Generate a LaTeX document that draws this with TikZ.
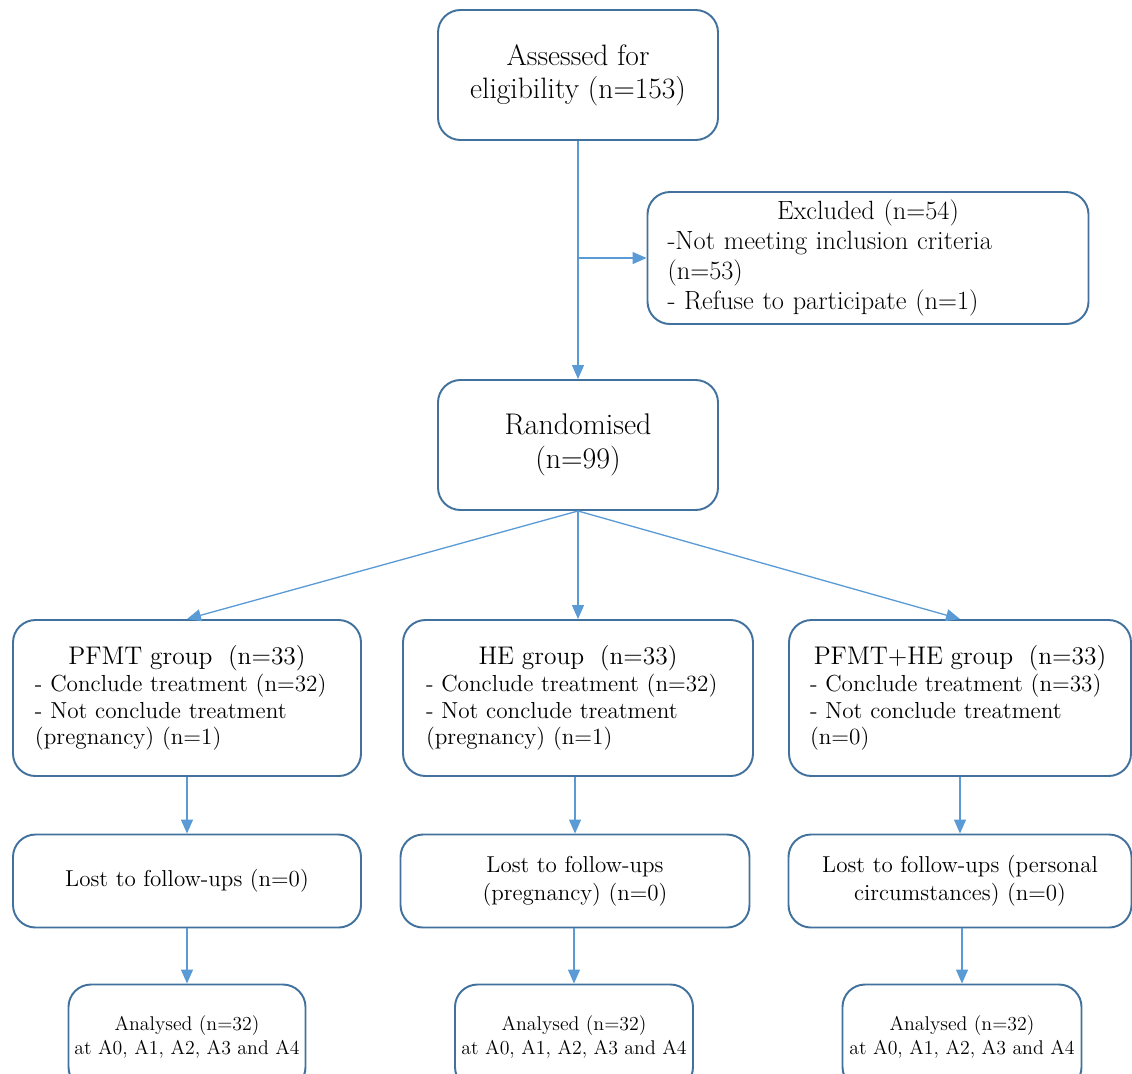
\documentclass[tikz,border=0pt]{standalone}
\usepackage{tikz}
\usetikzlibrary{arrows.meta}

\definecolor{boxblue}{RGB}{65,113,156}
\definecolor{arrblue}{RGB}{91,155,213}

\begin{document}
\begin{tikzpicture}[x=0.2mm,y=-0.2mm,
  box/.style={draw=boxblue,line width=1.1pt,rounded corners=4.5mm,inner sep=0pt},
  arr/.style={draw=arrblue,line width=0.75pt,-{Triangle[length=2.8mm,width=2.4mm]}}]
\clip (0,0) rectangle (1132,1073);
% top part
\node[box,minimum width=56mm,minimum height=26mm,align=center,font=\fontsize{16.8}{18.7}\selectfont] (assess) at (578,75) {Assessed for\\eligibility (n=153)};
\node[box,minimum width=88.2mm,minimum height=26.4mm,text width=80.2mm,align=left,font=\fontsize{15}{17}\selectfont] (excl) at (868,258) {\makebox[\linewidth]{Excluded (n=54)}\\-Not meeting inclusion criteria\\(n=53)\\- Refuse to participate (n=1)};
\node[box,minimum width=56mm,minimum height=26mm,align=center,font=\fontsize{17}{19.3}\selectfont] (rand) at (578,445) {Randomised\\(n=99)};
\coordinate (split) at (578,258);
\draw[arr] (assess) -- (rand);
\draw[arr] (split) -- (excl.west);
% groups
\node[box,minimum width=69.6mm,minimum height=31.2mm,text width=60.8mm,align=left,font=\fontsize{13.2}{15.3}\selectfont] (pfmt) at (187,698) {\makebox[\linewidth]{\fontsize{14.5}{17}\selectfont PFMT group\ \ (n=33)}\\- Conclude treatment (n=32)\\- Not conclude treatment\\(pregnancy) (n=1)};
\node[box,minimum width=70mm,minimum height=31.2mm,text width=60.8mm,align=left,font=\fontsize{13.2}{15.3}\selectfont] (he) at (578,698) {\makebox[\linewidth]{\fontsize{14.5}{17}\selectfont HE group\ \ (n=33)}\\- Conclude treatment (n=32)\\- Not conclude treatment\\(pregnancy) (n=1)};
\node[box,minimum width=68.4mm,minimum height=31.2mm,text width=60mm,align=left,font=\fontsize{13.2}{15.3}\selectfont] (both) at (960,698) {\makebox[\linewidth]{\fontsize{14.5}{17}\selectfont PFMT+HE group\ \ (n=33)}\\- Conclude treatment (n=33)\\- Not conclude treatment\\(n=0)};
\draw[arr] (rand.south) -- (pfmt.north);
\draw[arr] (rand.south) -- (he.north);
\draw[arr] (rand.south) -- (both.north);
% follow-ups
\node[box,minimum width=69.6mm,minimum height=18.6mm,align=center,font=\fontsize{13.1}{15.9}\selectfont] (lostA) at (187,881) {Lost to follow-ups (n=0)};
\node[box,minimum width=69.8mm,minimum height=18.6mm,align=center,font=\fontsize{13.1}{15.9}\selectfont] (lostB) at (575,881) {Lost to follow-ups\\(pregnancy) (n=0)};
\node[box,minimum width=68.6mm,minimum height=18.6mm,align=center,font=\fontsize{13.1}{15.9}\selectfont] (lostC) at (960,881) {Lost to follow-ups (personal\\circumstances) (n=0)};
\draw[arr] (pfmt.south) -- (lostA.north);
\draw[arr] (he.south -| lostB.north) -- (lostB.north);
\draw[arr] (both.south) -- (lostC.north);
% analysed
\node[box,minimum width=47.4mm,minimum height=21mm,align=center,font=\fontsize{11.3}{13.6}\selectfont] (anA) at (187,1037) {Analysed (n=32)\\at A0, A1, A2, A3 and A4};
\node[box,minimum width=47.6mm,minimum height=21mm,align=center,font=\fontsize{11.3}{13.6}\selectfont] (anB) at (574,1037) {Analysed (n=32)\\at A0, A1, A2, A3 and A4};
\node[box,minimum width=47.8mm,minimum height=21mm,align=center,font=\fontsize{11.3}{13.6}\selectfont] (anC) at (962,1037) {Analysed (n=32)\\at A0, A1, A2, A3 and A4};
\draw[arr] (lostA.south) -- (anA.north);
\draw[arr] (lostB.south -| anB.north) -- (anB.north);
\draw[arr] (lostC.south -| anC.north) -- (anC.north);
\end{tikzpicture}
\end{document}
